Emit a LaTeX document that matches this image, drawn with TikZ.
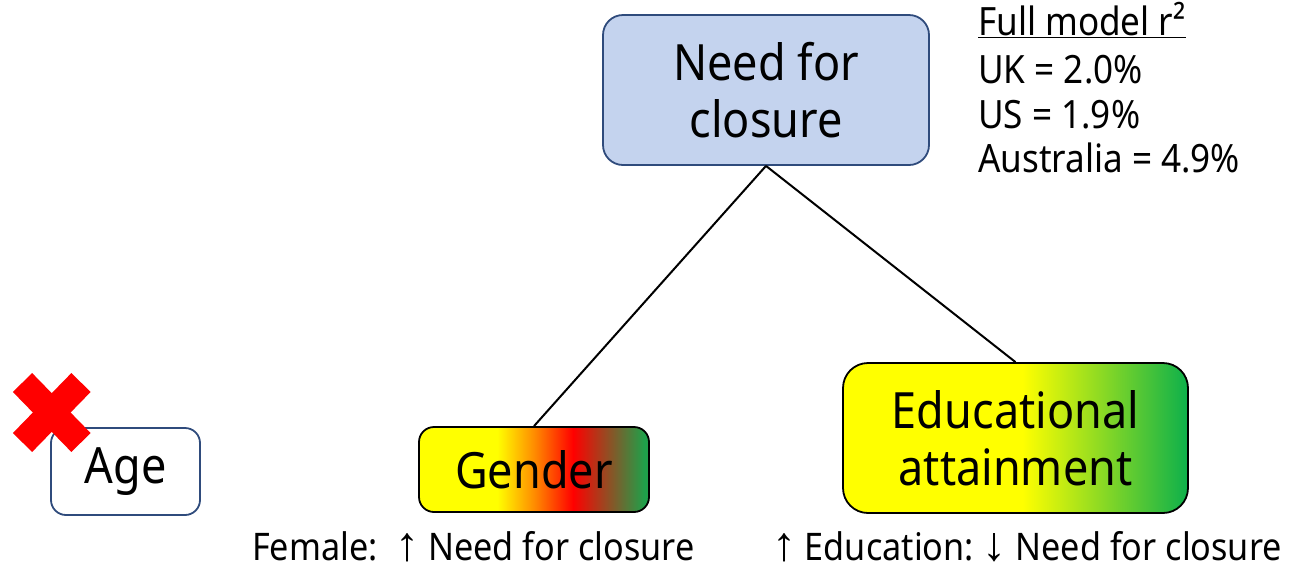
\documentclass[tikz,border=0pt]{standalone}
\usepackage{fontspec}
\setmainfont{Noto Sans}[FakeStretch=0.9]
\newfontfamily\arrfont{Liberation Sans}
\newcommand{\uparr}{{\arrfont\fontsize{48}{45}\selectfont ↑}}
\newcommand{\downarr}{{\arrfont\fontsize{48}{45}\selectfont ↓}}
\definecolor{nfcfill}{HTML}{C4D3EE}
\definecolor{nfcdraw}{HTML}{2F4B7C}
\definecolor{gorange}{HTML}{FF8C00}
\definecolor{ggreen}{HTML}{1FA04A}
\definecolor{egreen}{HTML}{0DB04B}
\definecolor{xred}{HTML}{FF0000}
\pgfdeclarehorizontalshading{gendershade}{100bp}{color(0bp)=(yellow); color(42bp)=(yellow); color(50bp)=(gorange); color(58.5bp)=(red); color(74bp)=(ggreen); color(100bp)=(ggreen)}
\pgfdeclarehorizontalshading{edushade}{100bp}{color(0bp)=(yellow); color(51bp)=(yellow); color(75bp)=(egreen); color(100bp)=(egreen)}
\tikzset{
  box/.style={rounded corners=20pt, line width=1.8pt, inner sep=0pt, align=center},
  bigtxt/.style={font=\fontsize{50}{57}\selectfont},
  smalltxt/.style={font=\fontsize{39}{45}\selectfont\frenchspacing, inner sep=0pt},
  labeltxt/.style={font=\fontsize{38}{45}\selectfont\frenchspacing, inner sep=0pt},
  link/.style={line width=2pt, draw=black},
}
\begin{document}
\begin{tikzpicture}[x=1pt,y=-1pt]
\useasboundingbox (0,0) rectangle (1301,566);
% main node
\node[box, bigtxt, draw=nfcdraw, fill=nfcfill, minimum width=326pt, minimum height=150pt] (nfc) at (766,90) {Need for\\closure};
% predictors
\node[box, bigtxt, draw=black, shading=gendershade, rounded corners=15pt, minimum width=230pt, minimum height=85pt] (gender) at (534,469.5) {Gender};
\node[box, bigtxt, draw=black, shading=edushade, rounded corners=25pt, minimum width=345pt, minimum height=150pt] (edu) at (1015.5,438) {Educational\\attainment};
\node[box, bigtxt, draw=nfcdraw, fill=white, rounded corners=15pt, minimum width=149pt, minimum height=87pt] (age) at (125.5,471.5) {Age};
% connectors
\draw[link] (nfc.south) -- (gender.north);
\draw[link] (nfc.south) -- (edu.north);
% red cross
\coordinate (xa1) at (22.5,382.5);
\coordinate (xa2) at (81,442.5);
\coordinate (xb1) at (81,382.5);
\coordinate (xb2) at (22.5,442.5);
\draw[xred, line width=27pt] (xa1) -- (xa2);
\draw[xred, line width=27pt] (xb1) -- (xb2);
% r2 text
\node[smalltxt, anchor=base west] (r2title) at (978,35) {\underline{Full model r²}};
\node[smalltxt, anchor=base west] (uk) at (978,83) {UK = 2.0\%};
\node[smalltxt, anchor=base west] (us) at (978,128) {US = 1.9\%};
\node[smalltxt, anchor=base west] (au) at (978,172) {Australia = 4.9\%};
% effect labels
\node[labeltxt, anchor=base west] (femlab) at (252,560) {Female:\ \ \uparr\ Need for closure};
\node[labeltxt, anchor=base east] (edulab) at (1282,560) {\uparr\ Education: \downarr\ Need for closure};
\end{tikzpicture}
\end{document}
